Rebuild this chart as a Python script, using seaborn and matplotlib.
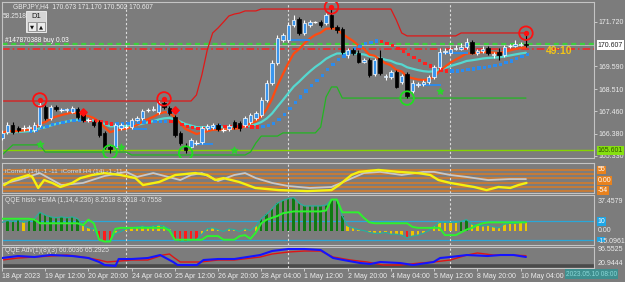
import numpy as np
import pandas as pd
import matplotlib
matplotlib.use("Agg")
import matplotlib.pyplot as plt
import seaborn as sns
from matplotlib.patches import Rectangle

# ---------------- data ----------------
opens = [166.18, 166.46, 166.80, 166.66, 166.66, 166.66, 166.56, 166.80, 167.66, 167.13,
         167.66, 167.51, 167.51, 167.42, 167.56, 167.37, 167.04, 166.94, 166.94, 166.42,
         165.75, 165.75, 166.66, 166.70, 166.70, 167.04, 167.13, 167.51, 167.51, 167.42,
         167.85, 167.61, 167.18, 166.42, 165.75, 165.75, 165.94, 165.99, 166.66, 166.70,
         166.80, 166.56, 166.61, 166.94, 166.89, 166.80, 166.94, 167.13, 167.27, 167.99,
         168.80, 169.75, 170.85, 170.85, 171.56, 171.85, 171.18, 171.56, 171.70, 171.70,
         171.65, 172.04, 171.46, 171.37, 170.13, 170.37, 170.23, 169.80, 169.89, 169.23,
         169.99, 169.08, 169.08, 169.32, 168.85, 169.23, 168.42, 168.70, 168.75, 168.85,
         169.08, 169.56, 170.27, 170.23, 170.42, 170.42, 170.51, 170.75, 170.23, 170.32,
         170.46, 170.13, 170.27, 170.13, 170.56, 170.56, 170.61, 170.673]
closes = [166.42, 166.80, 166.46, 166.56, 166.65, 166.70, 166.80, 167.75, 167.13, 167.66,
          167.56, 167.52, 167.56, 167.61, 167.18, 167.04, 167.03, 166.80, 166.32, 165.75,
          165.66, 166.80, 166.80, 166.71, 167.04, 167.13, 167.46, 167.52, 167.56, 167.85,
          167.66, 167.37, 166.32, 165.94, 165.61, 166.08, 165.95, 166.66, 166.75, 166.80,
          166.61, 166.55, 166.75, 166.70, 166.66, 167.13, 167.27, 167.37, 167.99, 168.80,
          169.75, 170.94, 171.08, 171.56, 171.80, 171.18, 171.65, 171.70, 171.71, 171.56,
          172.04, 171.46, 171.32, 170.27, 170.37, 170.23, 169.80, 169.89, 169.18, 169.89,
          169.27, 169.13, 169.32, 168.61, 169.13, 168.18, 168.80, 168.75, 168.85, 169.08,
          169.56, 170.27, 170.32, 170.42, 170.46, 170.51, 170.75, 170.23, 170.32, 170.42,
          170.23, 170.18, 170.13, 170.51, 170.55, 170.65, 170.66, 170.607]
highs = [166.56, 166.94, 166.94, 166.75, 166.80, 166.80, 166.94, 167.99, 167.75, 167.75,
         167.75, 167.61, 167.61, 167.70, 167.66, 167.46, 167.13, 167.04, 167.04, 166.51,
         165.85, 166.89, 166.89, 166.85, 167.13, 167.23, 167.56, 167.61, 167.70, 167.94,
         168.04, 167.70, 167.27, 166.51, 165.94, 166.18, 166.08, 166.75, 166.85, 166.89,
         166.89, 166.66, 166.85, 167.04, 166.99, 167.23, 167.37, 167.46, 168.13, 168.94,
         169.89, 171.08, 171.18, 171.70, 172.04, 171.94, 171.80, 171.80, 171.75, 171.80,
         172.13, 172.42, 171.56, 171.46, 170.46, 170.46, 170.37, 169.99, 169.99, 169.99,
         170.37, 169.23, 169.42, 169.42, 169.23, 169.32, 168.94, 168.85, 168.94, 169.18,
         169.66, 170.46, 170.46, 170.51, 170.61, 170.70, 170.94, 170.85, 170.42, 170.56,
         170.56, 170.27, 170.46, 170.61, 170.65, 170.85, 170.75, 171.170]
lows = [166.08, 166.37, 166.37, 166.46, 166.51, 166.51, 166.46, 166.70, 167.04, 167.04,
        167.46, 167.42, 167.42, 167.37, 167.08, 166.94, 166.94, 166.70, 166.23, 165.66,
        165.46, 165.66, 166.56, 166.61, 166.61, 166.99, 167.04, 167.42, 167.46, 167.32,
        167.56, 167.27, 166.23, 165.85, 165.46, 165.66, 165.85, 165.89, 166.56, 166.61,
        166.51, 166.46, 166.51, 166.61, 166.51, 166.70, 166.85, 167.04, 167.18, 167.89,
        168.70, 169.66, 170.75, 170.75, 171.46, 171.08, 171.08, 171.46, 171.65, 171.46,
        171.56, 171.37, 171.18, 170.18, 169.99, 170.13, 169.75, 169.75, 169.08, 169.13,
        169.18, 168.94, 168.99, 168.56, 168.75, 168.08, 168.32, 168.61, 168.66, 168.75,
        168.99, 169.46, 170.18, 170.13, 170.37, 170.37, 170.42, 170.18, 170.13, 170.23,
        170.13, 169.99, 169.89, 170.04, 170.46, 170.51, 170.56, 170.502]

upper_band = ([167.94] * 36 + [168.23, 169.18, 170.37, 171.18, 171.42, 171.70, 171.99, 172.08, 172.13]
              + [172.23] * 3 + [172.32] * 25 + [171.80, 171.18] + [171.04] * 10 + [171.18] * 13)
lower_band = ([165.37, 165.61] + [165.85] * 6 + [165.51] * 16 + [165.37] * 22 + [165.51, 165.94]
              + [166.27] * 4 + [166.42] * 7 + [166.70, 168.13, 168.61, 168.61] + [168.08] * 35)

seg_start = [10.8, 24.3, 30.6, 34.9, 53.0, 76.0, 81.7]
seg_end = [14.0, 26.9, 33.0, 39.1, 57.0, 81.2, 86.3]
seg_price = [167.52, 166.62, 167.42, 165.89, 170.85, 168.71, 170.23]

high_circle_bars = [7, 30, 61, 97]
high_circle_price = [167.99, 168.04, 172.42, 171.17]
low_circle_bars = [20, 34, 75]
low_circle_price = [165.51, 165.46, 168.08]
red_diamond_bars = [15, 32]
red_diamond_price = [167.42, 167.52]
green_star_bars = [7, 22, 43, 81]
green_star_price = [165.89, 165.75, 165.61, 168.42]

price_ticks = [171.720, 169.590, 168.510, 167.460, 166.380, 165.330]
last_price = 170.607
hline_price = 165.601
date_tick_bars = [0, 8, 16, 24, 32, 40, 48, 56, 64, 72, 80, 88, 96]
date_labels = ["18 Apr 2023", "19 Apr 12:00", "20 Apr 20:00", "24 Apr 04:00", "25 Apr 12:00",
               "26 Apr 20:00", "28 Apr 04:00", "1 May 12:00", "2 May 20:00", "4 May 04:00",
               "5 May 12:00", "8 May 20:00", "10 May 04:00"]
separator_bars = [22.9, 52.9, 82.9]

# iCorrell panel
corr_y_bars = [0.4, 1.9, 4.9, 5.6, 6.7, 7.8, 9.3, 10.8, 13, 14.5, 16.7, 18.9, 21.9, 24.7, 26.1, 29.1,
               32.1, 35.8, 38, 39.5, 41, 43.9, 46.9, 51.3, 56.5, 61, 62.4, 64.7, 66.1, 69.7, 73.4,
               77.1, 79.3, 80.8, 83, 87.4, 89.7, 91.9, 94.1, 95.6, 97.1]
corr_yellow = [-23, 3, 29, 19, -38, 3, -12, -33, -12, 13, 29, 39, 29, 13, -23, -7, 29, 39, 29, 3,
               13, -7, -38, -49, -54, -49, -23, 29, 45, 55, 45, 39, 29, 3, -12, -33, -49, -33,
               -38, -23, -12]
corr_s_bars = [0, 3, 7, 11, 15, 19, 23, 25, 28, 33, 35, 37, 40, 43, 45, 47, 50, 53, 57, 61, 64,
               67, 70, 74, 78, 80, 83, 86, 90, 94, 97]
corr_silver = [-18, 3, 39, -23, -12, 24, 45, 19, 39, 3, 29, 39, -2, 29, 39, 13, -12, -28, -38,
               -33, 3, 39, 45, 29, 45, 45, 29, 19, 3, 8, 8]
corr_levels = [55, 33, 11, -11, -33, -54]

# QQE histo panel
qqe_hist = [9, 11, 10, 12, 9, 11, 13, 20, 17, 15, 14, 15, 14, 15, 13, 6, 3, 2, -10, -12,
            -11, -3, -1, 2, 3, 4, 5, 4, 5, 6, 5, 2, -10, -12, -12, -11, -10, -4, 2, 3,
            1, -1, 2, 1, -1, 2, 0, 5, 13, 18, 24, 30, 33, 35, 36, 30, 27, 27, 27, 27,
            28, 34, 34, 16, 5, 3, 1, 0, -2, -3, -3, -2, -4, -4, -5, -8, -6, -5, -3, 0,
            5, 9, 9, 9, 9, 10, 12, 7, 6, 5, 6, 4, 3, 7, 8, 8, 9, 9]
qqe_signal = [13, 13, 13, 13, 13, 13, 12, 8, 8, 8, 8, 8, 8, 8, 8, 6, 12, 8, -10, -12,
              -12, 2, 3, 3, 3, 3, 3, 3, 3, 3, 3, 0, -10, -10, -10, -10, -10, -10, -6, -6,
              -6, -10, -10, -10, -6, -5, -9, -2, 8, 12, 14, 16, 19, 20, 21, 21, 21, 21, 21, 21,
              22, 34, 34, 20, 20, 20, 20, 14, 9, 8, 8, 8, 8, 8, 8, 8, 4, 3, 3, 3,
              3, 3, -5, -5, -5, -2, 1, 3, 6, 8, 9, 9, 9, 9, 9, 9, 9, 9]

# QQE Adv panel
adv_b_bars = [0, 3, 6, 9, 13, 16, 18, 19, 21, 21.6, 24, 27, 29.3, 31.7, 32.5, 36.1, 37.3, 40, 43,
              47.8, 50, 53, 56, 59, 61.3, 63.2, 66.3, 68.2, 70, 73.7, 76.1, 79.9, 81.1, 83, 86.1,
              89.9, 92.3, 94.7, 97]
adv_blue = [56.9, 64.1, 60.5, 67.7, 64.1, 56.9, 42.5, 31.7, 28.1, 53.3, 53.3, 56.9, 67.7, 42.5,
            31.7, 31.7, 49.7, 53.3, 53.3, 67.7, 82.1, 89.3, 89.3, 85.7, 56.9, 49.7, 38.9, 35.3,
            42.5, 38.9, 31.7, 42.5, 56.9, 60.5, 67.7, 64.1, 67.7, 67.7, 60.6]
adv_r_bars = [0, 3, 6, 12, 15, 18, 19.5, 24, 27, 29.8, 31, 31.7, 33, 36.7, 40, 43, 47.8, 50, 53,
              56, 59, 61.3, 64.5, 67.6, 70.6, 73.7, 77.4, 79.9, 83, 86.1, 88, 91, 94.1, 97]
adv_red = [49.7, 56.9, 60.5, 67.7, 60.5, 49.7, 42.5, 49.7, 49.7, 67.7, 71.3, 60.5, 42.5, 42.5,
           49.7, 49.7, 60.5, 71.3, 78.5, 82.1, 82.1, 60.5, 49.7, 42.5, 31.7, 31.7, 38.9, 42.5,
           49.7, 67.7, 75.0, 67.7, 67.7, 65.3]

# ---------------- style ----------------
W, H = 625, 282
BG = "#7c7c7c"
FG = "#ececec"
SP = "#c4c4c4"
sns.set_theme(style="dark", rc={"axes.facecolor": BG, "figure.facecolor": BG})
plt.rcParams["font.family"] = ["Liberation Sans", "DejaVu Sans"]

fig = plt.figure(figsize=(W / 100, H / 100), dpi=100, facecolor=BG)


def add_ax(x0, y0, x1, y1):
    ax = fig.add_axes([x0 / W, 1 - y1 / H, (x1 - x0) / W, (y1 - y0) / H])
    ax.set_facecolor(BG)
    for s in ax.spines.values():
        s.set_color(SP)
        s.set_linewidth(0.8)
    ax.set_xlim(0.0, 109.6)
    ax.grid(False)
    return ax


def ftext(x, y, s, **kw):
    kw.setdefault("va", "center")
    kw.setdefault("ha", "left")
    kw.setdefault("color", FG)
    kw.setdefault("fontsize", 5)
    return fig.text(x / W, 1 - y / H, s, **kw)


ax1 = add_ax(2, 2, 594, 158)
ax2 = add_ax(2, 163, 594, 193)
ax3 = add_ax(2, 195, 594, 245)
ax4 = add_ax(2, 247, 594, 268)

n = len(closes)
xb = np.arange(n)
o = np.array(opens); c = np.array(closes); h = np.array(highs); l = np.array(lows)
cs = pd.Series(c)
ema_fast = cs.ewm(span=8, adjust=False).mean()
ema_slow = cs.ewm(span=21, adjust=False).mean()
sma = cs.rolling(20, min_periods=1).mean()
trend = np.where(sma.diff().fillna(0) >= 0, "up", "down")

# ---------------- main panel ----------------
ax1.set_ylim(165.226, 172.655)
ax1.axhline(hline_price, color="#86d400", lw=1.0, zorder=1)
ax1.axhline(last_price, color="#b8b8b8", lw=0.7, zorder=1)
ax1.axhline(170.70, color="#3ccf3c", lw=0.9, ls=(0, (4, 3)), zorder=1)
ax1.axhline(170.64, color="#3ccf3c", lw=0.9, ls=(0, (4, 3)), zorder=1)
ax1.axhline(170.42, color="#ff2020", lw=1.1, ls=(0, (5, 2, 1, 2)), zorder=1)

sns.lineplot(x=xb, y=upper_band, ax=ax1, color="#e01818", lw=0.9, zorder=2)
sns.lineplot(x=xb, y=lower_band, ax=ax1, color="#22b622", lw=0.9, zorder=2)
sns.lineplot(x=xb, y=ema_slow.values, ax=ax1, color="#55d8d0", lw=1.6, zorder=3)
sns.lineplot(x=xb, y=ema_fast.values, ax=ax1, color="#ff4a10", lw=1.6, zorder=3)
m = xb >= 5
sns.scatterplot(x=xb[m] + 0.3, y=sma.values[m] - 0.08, hue=trend[m], ax=ax1,
                palette={"up": "#2a8cf0", "down": "#ff2020"}, marker="s", s=6,
                linewidth=0, legend=False, zorder=3)
ax1.hlines(seg_price, seg_start, seg_end, color="#2a8cf0", lw=1.3, zorder=3)

up = c > o + 0.015
dn = c < o - 0.015
dj = ~(up | dn)
ax1.vlines(xb[up | dj], l[up | dj], h[up | dj], color="white", lw=0.8, zorder=4)
ax1.vlines(xb[dn], l[dn], h[dn], color="black", lw=0.8, zorder=4)
ax1.bar(xb[up], c[up] - o[up], bottom=o[up], width=0.62, color="#3a96ee",
        edgecolor="white", linewidth=0.5, zorder=5)
ax1.bar(xb[dn], o[dn] - c[dn], bottom=c[dn], width=0.62, color="black",
        edgecolor="black", linewidth=0.5, zorder=5)
ax1.hlines(c[dj], xb[dj] - 0.4, xb[dj] + 0.4, color="white", lw=0.9, zorder=5)

ax1.scatter(high_circle_bars, high_circle_price, s=95, facecolors="none",
            edgecolors="#ff1010", linewidths=1.3, zorder=6)
ax1.scatter(high_circle_bars, high_circle_price, s=8, color="#ff1010", zorder=6)
ax1.scatter(low_circle_bars, low_circle_price, s=95, facecolors="none",
            edgecolors="#1ee01e", linewidths=1.3, zorder=6)
ax1.scatter(red_diamond_bars, red_diamond_price, s=14, marker="D", color="#ff1010", zorder=6)
ax1.scatter(green_star_bars, green_star_price, s=22, marker="*", color="#2ed12e", zorder=6)

ax1.yaxis.tick_right()
ax1.set_yticks(price_ticks)
ax1.set_yticklabels([f"{v:.3f}" for v in price_ticks])
ax1.tick_params(axis="y", right=True, left=False, length=2, width=0.6, color="#d8d8d8",
                labelcolor=FG, labelsize=5, pad=1.5)
ax1.set_xticks([])
yt = ax1.get_yaxis_transform()
ax1.text(1.006, last_price, "170.607", transform=yt, va="center", ha="left", fontsize=5,
         color="#202020", bbox=dict(boxstyle="square,pad=0.15", fc="white", ec="none"))
ax1.text(1.006, hline_price, "165.601", transform=yt, va="center", ha="left", fontsize=5,
         color="#305000", bbox=dict(boxstyle="square,pad=0.15", fc="#86e010", ec="none"))
ax1.text(0.918, 170.33, "49:10", transform=yt, va="center", ha="left", fontsize=7.5,
         fontweight="bold", color="#f2c418", zorder=7)

# ---------------- iCorrell panel ----------------
ax2.set_ylim(-64, 91)
for v in corr_levels:
    ax2.axhline(v, color="#d27b2c", lw=1.2, zorder=1)
sns.lineplot(x=corr_s_bars, y=corr_silver, ax=ax2, color="#c8c8c8", lw=1.3, zorder=2)
sns.lineplot(x=corr_y_bars, y=corr_yellow, ax=ax2, color="#f5f010", lw=1.7, zorder=3)
ax2.set_xticks([]); ax2.set_yticks([])
yt2 = ax2.get_yaxis_transform()
for v, s in [(55, "55"), (0, "0.00"), (-50, "-54")]:
    ax2.text(1.006, v, s, transform=yt2, va="center", ha="left", fontsize=5, color="white",
             bbox=dict(boxstyle="square,pad=0.12", fc="#e8821e", ec="none"))

# ---------------- QQE histo panel ----------------
ax3.set_ylim(-15.8, 39.0)
hist = np.array(qqe_hist)
hcol = np.where(hist >= 10, "#0f7a12", np.where(hist <= -7, "#ff1a1a", "#f0c400"))
ax3.bar(xb, hist, width=0.45, color=hcol, linewidth=0, zorder=2)
ax3.axhline(10, color="#2aa7d8", lw=0.9, zorder=1)
ax3.axhline(-10, color="#2aa7d8", lw=0.9, zorder=1)
sns.lineplot(x=xb, y=qqe_hist, ax=ax3, color="#2aae9c", lw=0.9, zorder=3)
sns.lineplot(x=xb, y=qqe_signal, ax=ax3, color="#2ef22e", lw=1.4, zorder=4)
ax3.set_xticks([]); ax3.set_yticks([])
yt3 = ax3.get_yaxis_transform()
ax3.text(1.006, 0.94, "37.4579", transform=ax3.transAxes, va="top", ha="left", fontsize=5, color=FG)
ax3.text(1.006, 10, "10", transform=yt3, va="center", ha="left", fontsize=5, color="white",
         bbox=dict(boxstyle="square,pad=0.12", fc="#1ea6e6", ec="none"))
ax3.text(1.006, 0, "0.00", transform=yt3, va="center", ha="left", fontsize=5, color=FG)
ax3.add_patch(Rectangle((1.005, -12.5), 0.013, 5.0, transform=yt3, clip_on=False,
                        fc="#1ea6e6", ec="none", zorder=3))
ax3.text(1.006, -11.6, "-15.0961", transform=yt3, va="center", ha="left", fontsize=5,
         color=FG, zorder=4)

# ---------------- QQE Adv panel ----------------
ax4.set_ylim(20.94, 96.55)
ax4.axhline(26.5, color="#4a4a4a", lw=2.6, zorder=1)
sns.lineplot(x=adv_r_bars, y=adv_red, ax=ax4, color="#e01414", lw=1.0, zorder=2)
sns.lineplot(x=adv_b_bars, y=adv_blue, ax=ax4, color="#1414ff", lw=1.5, zorder=3)
ax4.set_yticks([])
ax4.text(1.006, 0.86, "96.5525", transform=ax4.transAxes, va="center", ha="left", fontsize=5, color=FG)
ax4.text(1.006, 0.22, "20.9444", transform=ax4.transAxes, va="center", ha="left", fontsize=5, color=FG)
ax4.set_xticks(date_tick_bars)
ax4.set_xticklabels(date_labels, ha="left")
ax4.tick_params(axis="x", bottom=True, length=2.5, width=0.6, color="#d8d8d8",
                labelcolor=FG, labelsize=5, pad=1.2)

for ax in (ax1, ax2, ax3, ax4):
    ax.set_xlabel(""); ax.set_ylabel("")
    for sb in separator_bars:
        ax.axvline(sb, color="#dcdcdc", lw=0.8, ls=(0, (2, 2)), zorder=1.5)

# ---------------- text overlays ----------------
ftext(13, 7, "GBPJPY,H4  170.673 171.170 170.502 170.607", fontsize=4.8)
ftext(3, 16, "58.2518", fontsize=4.8)
fig.patches.append(Rectangle((26 / W, 1 - 32 / H), 20 / W, 21 / H, transform=fig.transFigure,
                             fc="#d6d6d6", ec="#f2f2f2", lw=0.6, zorder=10))
for bx in (28, 37):
    fig.patches.append(Rectangle((bx / W, 1 - 30.5 / H), 8 / W, 8 / H, transform=fig.transFigure,
                                 fc="#ececec", ec="#606060", lw=0.4, zorder=11))
ftext(36, 17, "D1", ha="center", color="#1a1a1a", fontsize=5.5, zorder=12)
ftext(32, 26.5, "\u25bc", ha="center", color="#101010", fontsize=3.8, zorder=12,
      family=["DejaVu Sans"])
ftext(41, 26.5, "\u25b2", ha="center", color="#101010", fontsize=3.8, zorder=12,
      family=["DejaVu Sans"])
ftext(5, 41, "#147870388 buy 0.03", fontsize=4.8, color="white")
ftext(5, 171, "iCorrelll (14) -1 -11  iCorrell H4 (14) -1 -11", fontsize=4.6, color="#dadada")
ftext(5, 200, "QQE histo +EMA (1,14,4.236) 8.2518 8.2518 -0.7558", fontsize=4.8, color="#e2e2e2")
ftext(5, 251, "QQE Adv(1)(8)(3) 60.6036 65.2925", fontsize=4.8, color="#e2e2e2")
ftext(566, 274, "2023.05.10 08:00", fontsize=4.8, color="#8ad8d8",
      bbox=dict(boxstyle="square,pad=0.2", fc="#3f8f8f", ec="none"))

fig.savefig("out.png", dpi=100, facecolor=BG)
